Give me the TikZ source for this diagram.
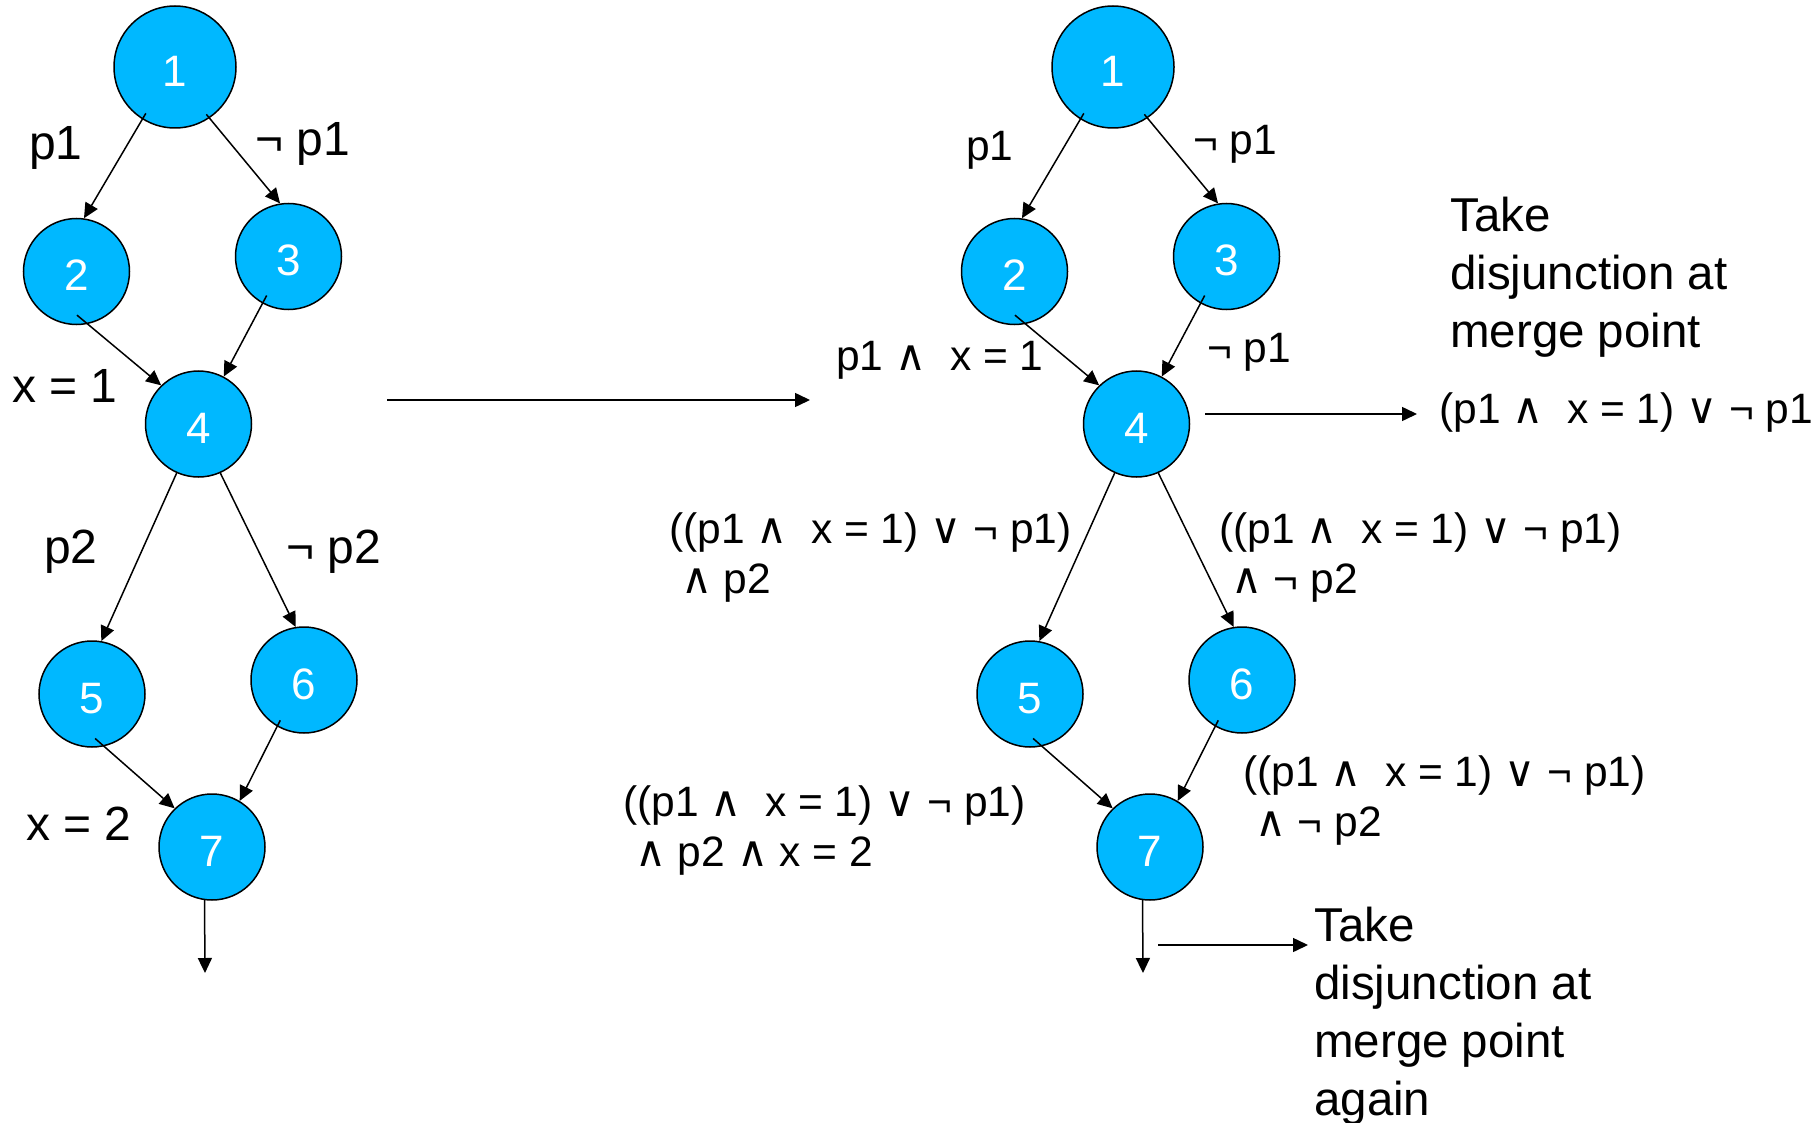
\documentclass[tikz,border=0pt]{standalone}
\usepackage{fontspec}
\setmainfont{Liberation Sans}
\newfontfamily\symfont{DejaVu Sans}
\usepackage{tikz}
\usetikzlibrary{arrows.meta}
\definecolor{nodeblue}{RGB}{0,184,255}
\newcommand{\conj}{{\symfont ∧}}
\newcommand{\disj}{{\symfont ∨}}

\begin{document}
\begin{tikzpicture}[
    x=1pt, y=-1pt,
    state/.style={circle, draw, line width=1.5pt, fill=nodeblue, text=white, inner sep=0pt, minimum size=106pt, text height=38.5pt, text depth=0pt, font=\fontsize{44}{44}\selectfont},
    entry/.style={minimum size=122pt},
    lbl/.style={anchor=west, inner sep=0pt, font=\fontsize{48}{54}\selectfont},
    cond/.style={anchor=west, inner sep=0pt, align=left, font=\fontsize{42.5}{50}\selectfont},
    note/.style={anchor=west, inner sep=0pt, align=left, font=\fontsize{47.5}{58}\selectfont},
    arrow/.style={-{Triangle[length=15pt, width=14pt]}, line width=1.5pt}
  ]
    \useasboundingbox (0,0) rectangle (1820,1123);

    % left graph
    \node[state, entry] (l1) at (175,67) {1};
    \node[state] (l2) at (76.5,271.5) {2};
    \node[state] (l3) at (288.5,256.5) {3};
    \node[state] (l4) at (198.5,424) {4};
    \node[state] (l5) at (92,694) {5};
    \node[state] (l6) at (304,680) {6};
    \node[state] (l7) at (212,847) {7};
    \coordinate (l8) at (205,973);

    \node[lbl] at (29,148) {p1};
    \node[lbl] at (255,144) {¬ p1};
    \node[lbl] at (12,386) {x = 1};
    \node[lbl] at (44,552) {p2};
    \node[lbl] at (286,552) {¬ p2};
    \node[lbl] at (26,824) {x = 2};

    \draw[arrow, shorten <=-7pt] (l1.238) -- (l2.82);
    \draw[arrow, shorten <=-5pt] (l1.304) -- (l3.99);
    \draw[arrow, shorten <=-14pt] (l2.282) -- (l4.134);
    \draw[arrow, shorten <=-9pt] (l3.241) -- (l4.62);
    \draw[arrow] (l4.246) -- (l5.80);
    \draw[arrow] (l4.294) -- (l6.99);
    \draw[arrow, shorten <=-12pt] (l5.283) -- (l7.134);
    \draw[arrow, shorten <=-7pt] (l6.240) -- (l7.59);
    \draw[arrow] (l7.262) -- (l8);

    % transform arrow
    \coordinate (from) at (387,400);
    \coordinate (to) at (810,400);
    \draw[arrow] (from) -- (to);

    % right graph
    \node[state, entry] (r1) at (1113,67) {1};
    \node[state] (r2) at (1014.5,271.5) {2};
    \node[state] (r3) at (1226.5,256.5) {3};
    \node[state] (r4) at (1136.5,424) {4};
    \node[state] (r5) at (1030,694) {5};
    \node[state] (r6) at (1242,680) {6};
    \node[state] (r7) at (1150,847) {7};
    \coordinate (r8) at (1143,973);

    \node[cond] at (966,150) {p1};
    \node[cond] at (1193,144) {¬ p1};
    \node[cond] at (836,360) {p1 \conj\ \ x = 1};
    \node[cond] at (1207,352) {¬ p1};
    \node[cond] at (669,558) {((p1 \conj\ \ x = 1) \disj{} ¬ p1)\\\ \conj{} p2};
    \node[cond] at (1219,558) {((p1 \conj\ \ x = 1) \disj{} ¬ p1)\\\ \conj{} ¬ p2};
    \node[cond] at (1243,801) {((p1 \conj\ \ x = 1) \disj{} ¬ p1)\\\ \conj{} ¬ p2};
    \node[cond] at (623,831) {((p1 \conj\ \ x = 1) \disj{} ¬ p1)\\\ \conj{} p2 \conj{} x = 2};

    \node[note] (merge) at (1450,277) {Take\\disjunction at\\merge point};
    \node[cond] (merged) at (1439,413) {(p1 \conj\ \ x = 1) \disj{} ¬ p1};
    \node[note] (again) at (1314,1016) {Take\\disjunction at\\merge point\\again};

    \draw[arrow, shorten <=-7pt] (r1.238) -- (r2.82);
    \draw[arrow, shorten <=-5pt] (r1.304) -- (r3.99);
    \draw[arrow, shorten <=-14pt] (r2.282) -- (r4.134);
    \draw[arrow, shorten <=-9pt] (r3.241) -- (r4.62);
    \draw[arrow] (r4.246) -- (r5.80);
    \draw[arrow] (r4.294) -- (r6.99);
    \draw[arrow, shorten <=-12pt] (r5.283) -- (r7.134);
    \draw[arrow, shorten <=-7pt] (r6.240) -- (r7.59);
    \draw[arrow] (r7.262) -- (r8);

    \coordinate (out4) at (1205,414);
    \coordinate (in4) at (1417,414);
    \draw[arrow] (out4) -- (in4);
    \coordinate (out7) at (1158,945);
    \coordinate (in7) at (1308,945);
    \draw[arrow] (out7) -- (in7);
  \end{tikzpicture}
\end{document}
